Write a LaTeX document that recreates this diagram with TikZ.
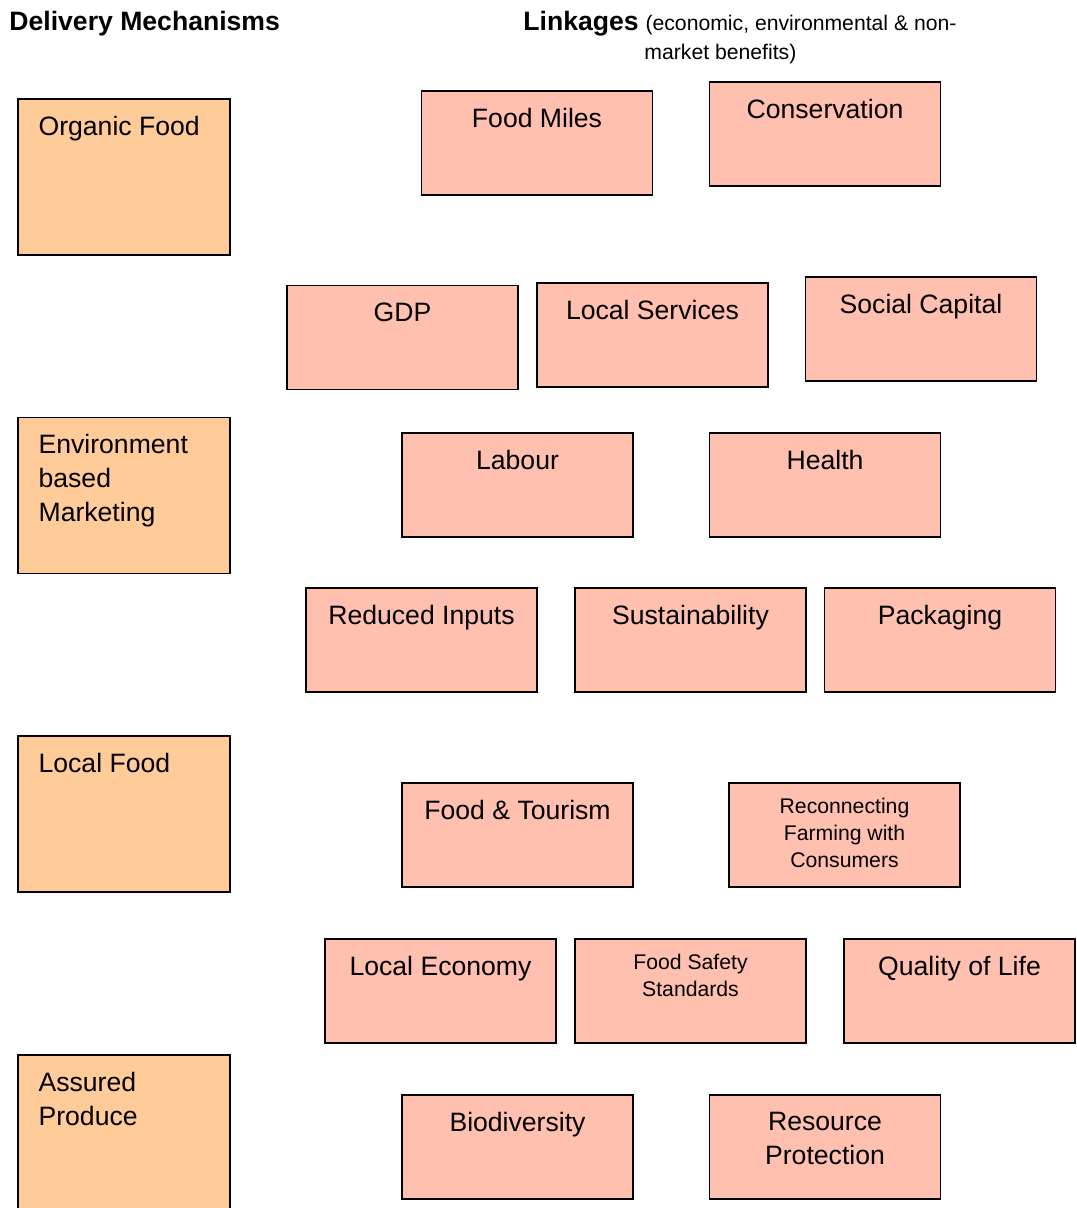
\documentclass[tikz,border=0pt]{standalone}
\usepackage{fontspec}
\setmainfont{Liberation Sans}
\usetikzlibrary{positioning}
\definecolor{mechfill}{RGB}{255,204,153}
\definecolor{linkfill}{RGB}{255,192,176}
\newcommand{\mainsize}{\fontsize{13.3}{17}\selectfont}
\newcommand{\notesize}{\fontsize{10.6}{13.5}\selectfont}

\begin{document}
\begin{tikzpicture}[x=0.5pt,y=-0.5pt,
  mechbox/.style={draw,line width=0.8pt,fill=mechfill,minimum width=106pt,minimum height=78pt,inner sep=0pt},
  linkbox/.style={draw,line width=0.8pt,fill=linkfill,minimum width=115.5pt,minimum height=52pt,inner sep=0pt},
  mechtext/.style={anchor=north west,inner sep=0pt,align=left,font=\mainsize},
  linktext/.style={anchor=north,inner sep=0pt,align=center,font=\mainsize},
  notetext/.style={anchor=north,inner sep=0pt,align=center,font=\notesize},
  headtext/.style={anchor=base west,inner sep=0pt}]
\useasboundingbox (0,0) rectangle (1076,1208);

% headings
\node[headtext,font=\mainsize\bfseries] (mechhead) at (9,31) {Delivery Mechanisms};
\node[headtext,font=\mainsize\bfseries] (linkhead) at (523,31) {Linkages};
\node[headtext,font=\notesize] (linknote) at ([xshift=3pt]linkhead.base east) {(economic, environmental \& non-};
\node[headtext,font=\notesize] (linknote2) at (644,60) {market benefits)};

% delivery mechanisms
\node[mechbox] (organic) at (124,177) {};
\node[mechbox] (envmarket) at (124,495.5) {};
\node[mechbox] (localfood) at (124,814) {};
\node[mechbox] (assured) at (124,1133) {};
\node[mechtext,below right=9pt and 10.5pt of organic.north west] (organic-t) {Organic Food};
\node[mechtext,below right=8.5pt and 10.5pt of envmarket.north west] (envmarket-t) {Environment\\based\\Marketing};
\node[mechtext,below right=9pt and 10.5pt of localfood.north west] (localfood-t) {Local Food};
\node[mechtext,below right=9pt and 10.5pt of assured.north west] (assured-t) {Assured\\Produce};

% linkages
\node[linkbox] (foodmiles) at (537,143) {};
\node[linkbox] (conservation) at (825,134) {};
\node[linkbox] (gdp) at (402.5,337.5) {};
\node[linkbox] (localservices) at (652.5,335) {};
\node[linkbox] (socialcapital) at (921,329) {};
\node[linkbox] (labour) at (517.5,485) {};
\node[linkbox] (health) at (825,485) {};
\node[linkbox] (reducedinputs) at (421.5,640) {};
\node[linkbox] (sustainability) at (690.5,640) {};
\node[linkbox] (packaging) at (940,640) {};
\node[linkbox] (foodtourism) at (517.5,835) {};
\node[linkbox] (reconnecting) at (844.5,835) {};
\node[linkbox] (localeconomy) at (440.5,991) {};
\node[linkbox] (foodsafety) at (690.5,991) {};
\node[linkbox] (quality) at (959.5,991) {};
\node[linkbox] (biodiversity) at (517.5,1147) {};
\node[linkbox] (resource) at (825,1147) {};

\node[linktext,below=9pt of foodmiles.north] (foodmiles-t) {Food Miles};
\node[linktext,below=9pt of conservation.north] (conservation-t) {Conservation};
\node[linktext,below=9pt of gdp.north] (gdp-t) {GDP};
\node[linktext,below=9pt of localservices.north] (localservices-t) {Local Services};
\node[linktext,below=9pt of socialcapital.north] (socialcapital-t) {Social Capital};
\node[linktext,below=9pt of labour.north] (labour-t) {Labour};
\node[linktext,below=9pt of health.north] (health-t) {Health};
\node[linktext,below=9pt of reducedinputs.north] (reducedinputs-t) {Reduced Inputs};
\node[linktext,below=9pt of sustainability.north] (sustainability-t) {Sustainability};
\node[linktext,below=9pt of packaging.north] (packaging-t) {Packaging};
\node[linktext,below=9pt of foodtourism.north] (foodtourism-t) {Food \& Tourism};
\node[notetext,below=8pt of reconnecting.north] (reconnecting-t) {Reconnecting\\Farming with\\Consumers};
\node[linktext,below=9pt of localeconomy.north] (localeconomy-t) {Local Economy};
\node[notetext,below=8pt of foodsafety.north] (foodsafety-t) {Food Safety\\Standards};
\node[linktext,below=9pt of quality.north] (quality-t) {Quality of Life};
\node[linktext,below=9pt of biodiversity.north] (biodiversity-t) {Biodiversity};
\node[linktext,below=9pt of resource.north] (resource-t) {Resource\\Protection};
\end{tikzpicture}
\end{document}
